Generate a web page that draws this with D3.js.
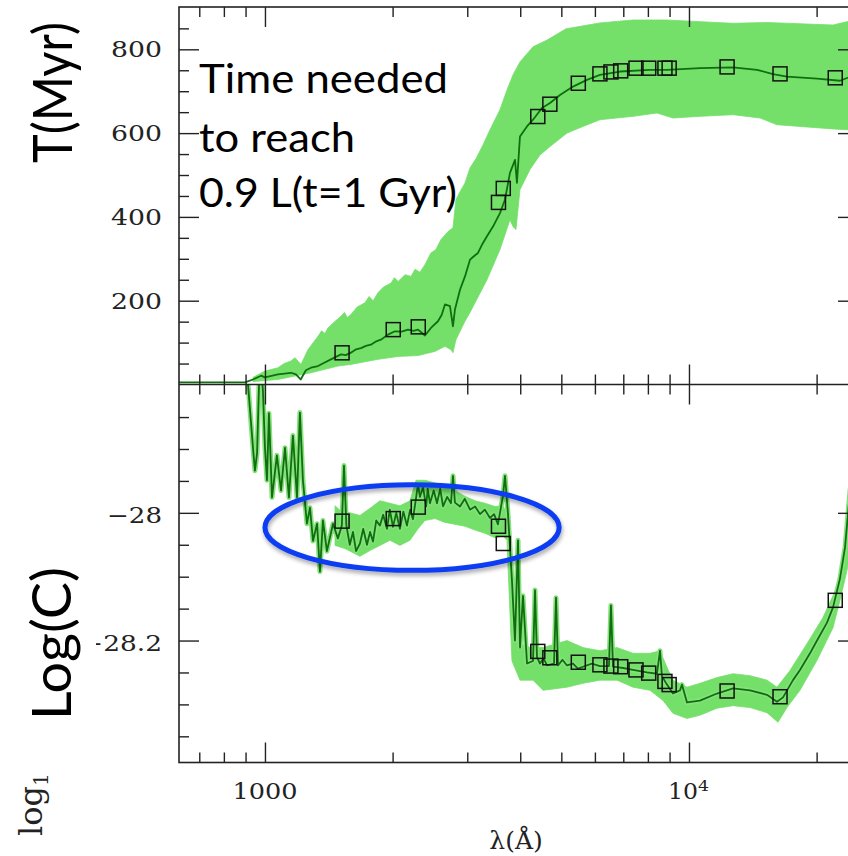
<!DOCTYPE html>
<html>
<head>
<meta charset="utf-8">
<script src="https://cdn.jsdelivr.net/npm/d3@7"></script>
<style>
  html, body { margin: 0; padding: 0; background: #fff; }
  svg { display: block; }
</style>
</head>
<body>
<svg id="chart" width="848" height="856"></svg>
<script>
// ---- wavelength axis (Angstrom, log scale) ----
const lambdaRange = [627, 25040];
const xMajorTicks = [1000, 10000];
const xMinorTicks = [700, 800, 900, 2000, 3000, 4000, 5000, 6000, 7000, 8000, 9000, 20000];

// ---- upper panel: time T (Myr) ----
const tRange = [0, 901];
const tMajorTicks = [200, 400, 600, 800];
const tMinorTicks = [50, 100, 150, 250, 300, 350, 450, 500, 550, 650, 700, 750, 850];
const tTickLabels = ["200", "400", "600", "800"];

// ---- lower panel: log C ----
const cRange = [-28.391, -27.799];
const cMajorTicks = [-28.2, -28.0];
const cMinorTicks = [-28.35, -28.3, -28.25, -28.15, -28.1, -28.05, -27.95, -27.9, -27.85];
const cTickLabels = ["\u221228.2", "\u221228"];

// ---- photometric bands (square markers) ----
const filterLambda = [1520, 2007, 2299, 3554, 3648, 4400, 4698, 5483, 6166, 6546, 6902, 7500, 8036, 8776, 8980, 12300, 16395, 22130];
const filterT = [75.6, 131, 137.6, 434.6, 468, 639.6, 669, 719, 741.4, 746, 748.6, 755, 755, 755, 755, 758, 741.4, 732];
const filterLogC = [-28.013, -28.009, -27.991, -28.021, -28.048, -28.217, -28.227, -28.234, -28.238, -28.240, -28.241, -28.246, -28.251, -28.264, -28.269, -28.279, -28.288, -28.137];

// ---- T(lambda): median curve and spread ----
const tLine = [[623,5],[897,5],[937,12],[979,21],[1000,17],[1073,24],[1152,28],[1183,24],[1214,12],[1249,34],[1284,40],[1334,44],[1380,52],[1431,60],[1470,66],[1511,72],[1550,70],[1595,76],[1640,84],[1684,87],[1730,92],[1778,95],[1830,103],[1877,107],[1950,119],[2026,127],[2100,126],[2175,131],[2240,128],[2296,131],[2340,124],[2384,117],[2463,135],[2559,151],[2610,166],[2658,191],[2731,187],[2776,139],[2806,179],[2884,226],[2963,258],[3045,298],[3110,306],[3180,314],[3260,336],[3339,354],[3450,377],[3583,409],[3681,441],[3783,505],[3888,536],[3929,481],[3994,592],[4149,616],[4287,632],[4502,660],[4702,672],[4964,691],[5328,711],[5746,727],[6167,739],[6877,747],[8092,751],[8873,751],[10616,755],[12700,757],[14469,751],[15781,741],[17026,735],[20043,730],[22707,725],[24640,739],[25040,745]];
const tBandUpper = [[937,17],[1000,32],[1073,40],[1110,50],[1152,56],[1177,64],[1216,48],[1263,83],[1300,100],[1334,115],[1360,128],[1385,122],[1408,135],[1460,150],[1511,163],[1540,172],[1565,160],[1595,167],[1650,185],[1721,195],[1760,210],[1800,200],[1847,219],[1900,232],[1983,242],[2020,255],[2060,246],[2140,262],[2210,258],[2260,275],[2320,268],[2384,286],[2463,314],[2530,322],[2601,346],[2702,365],[2776,374],[2821,441],[2884,460],[2960,480],[3045,517],[3150,540],[3268,572],[3394,608],[3583,656],[3722,703],[3845,739],[3994,770],[4287,806],[4626,822],[5129,849],[6167,863],[7379,870],[8873,870],[10616,866],[12700,862],[15276,864],[18273,861],[21860,858],[23592,866],[25040,868]];
const tBandLower = [[937,7],[1073,12],[1284,28],[1486,44],[1595,48],[1847,60],[2060,67],[2296,69],[2517,79],[2658,91],[2746,83],[2776,76],[2821,107],[2963,151],[3045,172],[3339,250],[3583,322],[3783,393],[3845,377],[3908,370],[3994,465],[4217,513],[4453,548],[4702,568],[5157,600],[5623,616],[6167,632],[7379,640],[8404,648],[9169,636],[10616,640],[12700,644],[14710,636],[16127,620],[18273,616],[21860,610],[23592,608],[25040,613]];

// ---- log C(lambda): median curve and spread ----
const cLine = [[900,-27.75],[937,-27.898],[947,-27.934],[958,-27.907],[973,-27.75],[989,-27.808],[1000,-27.898],[1011,-27.949],[1022,-27.844],[1039,-27.976],[1067,-27.910],[1091,-27.965],[1115,-27.898],[1139,-27.976],[1164,-27.879],[1190,-27.976],[1209,-27.843],[1229,-27.949],[1256,-28.017],[1277,-27.992],[1298,-28.044],[1327,-28.017],[1348,-28.092],[1370,-28.012],[1400,-28.060],[1447,-28.017],[1486,-28.040],[1518,-28.020],[1536,-27.926],[1556,-28.020],[1585,-28.050],[1613,-28.030],[1640,-28.060],[1675,-28.048],[1705,-28.025],[1740,-28.050],[1770,-28.030],[1798,-28.045],[1830,-28.012],[1867,-28.020],[1900,-28.003],[1940,-28.025],[1970,-27.995],[2004,-28.022],[2040,-28.000],[2081,-28.025],[2120,-27.998],[2162,-28.020],[2200,-27.995],[2234,-28.010],[2296,-27.955],[2320,-27.975],[2359,-27.960],[2400,-27.990],[2420,-27.962],[2450,-27.985],[2500,-27.965],[2545,-27.985],[2590,-27.962],[2630,-27.990],[2690,-27.975],[2746,-27.985],[2776,-27.942],[2806,-27.984],[2884,-27.990],[2960,-27.978],[3045,-27.995],[3130,-27.990],[3215,-28.002],[3300,-27.995],[3394,-28.008],[3470,-28.002],[3544,-28.018],[3642,-27.973],[3682,-27.942],[3742,-28.001],[3824,-28.106],[3887,-28.200],[3952,-28.043],[3995,-28.211],[4060,-28.130],[4150,-28.236],[4287,-28.232],[4334,-28.121],[4381,-28.226],[4453,-28.236],[4540,-28.228],[4626,-28.239],[4805,-28.236],[4858,-28.133],[4911,-28.239],[5030,-28.230],[5157,-28.239],[5328,-28.236],[5470,-28.244],[5623,-28.241],[5900,-28.236],[6167,-28.240],[6476,-28.240],[6547,-28.145],[6619,-28.241],[7000,-28.243],[7379,-28.246],[7960,-28.250],[8404,-28.252],[8543,-28.216],[8636,-28.256],[8874,-28.269],[9168,-28.283],[9524,-28.278],[9627,-28.269],[9892,-28.297],[10616,-28.294],[11642,-28.283],[12700,-28.275],[13928,-28.278],[15276,-28.285],[16127,-28.296],[16665,-28.289],[17590,-28.262],[18273,-28.246],[19292,-28.220],[20043,-28.200],[21161,-28.172],[21862,-28.148],[22707,-28.103],[23338,-28.054],[23981,-27.965],[25043,-27.887]];
const cBandUpper = [[1463,-27.989],[1503,-27.996],[1586,-28.000],[1675,-28.004],[1769,-27.993],[1867,-27.981],[1971,-27.985],[2081,-27.989],[2198,-27.981],[2271,-27.949],[2384,-27.949],[2517,-27.953],[2658,-27.957],[2806,-27.965],[2963,-27.974],[3129,-27.981],[3303,-27.985],[3487,-27.990],[3642,-27.989],[3742,-28.004],[3824,-28.137],[3929,-28.200],[3995,-28.205],[4217,-28.211],[4527,-28.211],[5157,-28.200],[5623,-28.211],[6167,-28.216],[6765,-28.211],[7379,-28.220],[8092,-28.220],[8543,-28.216],[8874,-28.242],[9168,-28.262],[9892,-28.273],[10616,-28.267],[11642,-28.258],[12700,-28.252],[13928,-28.255],[15276,-28.262],[16127,-28.273],[17306,-28.247],[18977,-28.205],[20701,-28.164],[22707,-28.106],[23592,-28.054],[25043,-27.934]];
const cBandLower = [[1463,-28.051],[1544,-28.056],[1675,-28.068],[1769,-28.059],[1867,-28.051],[1971,-28.043],[2081,-28.051],[2198,-28.043],[2296,-28.025],[2384,-28.012],[2517,-28.009],[2658,-28.015],[2806,-28.018],[2963,-28.021],[3129,-28.027],[3303,-28.032],[3487,-28.039],[3642,-28.036],[3722,-28.043],[3824,-28.232],[3995,-28.262],[4287,-28.262],[4527,-28.278],[5157,-28.273],[5623,-28.267],[6167,-28.262],[6765,-28.262],[7379,-28.273],[8092,-28.278],[8686,-28.294],[9168,-28.314],[9892,-28.322],[10616,-28.317],[11642,-28.306],[12700,-28.302],[13928,-28.305],[15276,-28.313],[16216,-28.328],[17026,-28.305],[18273,-28.278],[20043,-28.231],[21862,-28.180],[22707,-28.137],[23592,-28.090],[25043,-27.996]];

// ---- highlighted UV region (ellipse extent in data units) ----
const highlightLambda = [1000, 4941];
const highlightLogC = [-27.956, -28.090];

// ---- annotation text ----
const noteLines = ["Time needed", "to reach", "0.9 L(t=1 Gyr)"];
const topPanelTitle = "T(Myr)";
const bottomPanelTitle = "Log(C)";
const xAxisTitle = "\u03bb(\u00c5)";

// =====================================================================
const frame = { left: 179, right: 858, top: 7, mid: 384.5, bottom: 762.5 };
const colors = { band: "#74e06a", line: "#0f6f0f", halo: "#86e07c", axis: "#222", highlight: "#0a3cf2" };

const svg = d3.select("#chart");
const x = d3.scaleLog().domain(lambdaRange).range([frame.left, frame.right]);
const yT = d3.scaleLinear().domain(tRange).range([frame.mid, frame.top]);
const yC = d3.scaleLinear().domain(cRange).range([frame.bottom, frame.mid]);

const defs = svg.append("defs");
defs.append("clipPath").attr("id", "clip-top").append("rect")
  .attr("x", frame.left).attr("y", frame.top)
  .attr("width", frame.right - frame.left).attr("height", frame.mid - frame.top);
defs.append("clipPath").attr("id", "clip-bottom").append("rect")
  .attr("x", frame.left).attr("y", frame.mid)
  .attr("width", frame.right - frame.left).attr("height", frame.bottom - frame.mid);
const shadow = defs.append("filter").attr("id", "soft-shadow")
  .attr("x", "-10%").attr("y", "-20%").attr("width", "120%").attr("height", "150%");
shadow.append("feDropShadow").attr("dx", 1).attr("dy", 3).attr("stdDeviation", 2)
  .attr("flood-color", "#000").attr("flood-opacity", 0.35);

function bandPath(upper, lower, y) {
  const pts = upper.concat(lower.slice().reverse());
  return d3.line().x(d => x(d[0])).y(d => y(d[1]))(pts) + "Z";
}
const lineGen = y => d3.line().x(d => x(d[0])).y(d => y(d[1]));

// ---- upper panel ----
const gTop = svg.append("g").attr("clip-path", "url(#clip-top)");
gTop.append("path").attr("d", bandPath(tBandUpper, tBandLower, yT))
  .attr("fill", colors.band).attr("stroke", colors.band).attr("stroke-width", 0.8);
gTop.append("path").datum(tLine).attr("d", lineGen(yT))
  .attr("fill", "none").attr("stroke", colors.line).attr("stroke-width", 1.8)
  .attr("stroke-linejoin", "round");
gTop.selectAll("rect.mk").data(filterLambda.map((l, i) => [l, filterT[i]])).join("rect")
  .attr("class", "mk")
  .attr("x", d => x(d[0]) - 7).attr("y", d => yT(d[1]) - 7)
  .attr("width", 14).attr("height", 14)
  .attr("fill", "none").attr("stroke", "#111").attr("stroke-width", 1.5);

// ---- lower panel ----
const gBot = svg.append("g").attr("clip-path", "url(#clip-bottom)");
gBot.append("path").attr("d", bandPath(cBandUpper, cBandLower, yC))
  .attr("fill", colors.band).attr("stroke", colors.band).attr("stroke-width", 0.8);
gBot.append("path").datum(cLine).attr("d", lineGen(yC))
  .attr("fill", "none").attr("stroke", colors.halo).attr("stroke-width", 5)
  .attr("stroke-linejoin", "round");
gBot.append("path").datum(cLine).attr("d", lineGen(yC))
  .attr("fill", "none").attr("stroke", colors.line).attr("stroke-width", 1.8)
  .attr("stroke-linejoin", "round");
gBot.selectAll("rect.mk").data(filterLambda.map((l, i) => [l, filterLogC[i]])).join("rect")
  .attr("class", "mk")
  .attr("x", d => x(d[0]) - 7).attr("y", d => yC(d[1]) - 7)
  .attr("width", 14).attr("height", 14)
  .attr("fill", "none").attr("stroke", "#111").attr("stroke-width", 1.5);

// ---- ticks (inward, on all four sides of both panels) ----
function tickAxis(axis, values, size, transform) {
  svg.append("g").attr("transform", transform)
    .call(axis.tickValues(values).tickSize(-size).tickFormat(""))
    .call(g => g.select(".domain").remove())
    .call(g => g.selectAll("line").attr("stroke", colors.axis).attr("stroke-width", 1.4));
}
[[frame.top, d3.axisTop], [frame.mid, d3.axisBottom], [frame.mid, d3.axisTop], [frame.bottom, d3.axisBottom]]
  .forEach(([yy, ax]) => {
    tickAxis(ax(x), xMajorTicks, 20, `translate(0,${yy})`);
    tickAxis(ax(x), xMinorTicks, 10, `translate(0,${yy})`);
  });
[[frame.left, d3.axisLeft], [frame.right, d3.axisRight]].forEach(([xx, ax]) => {
  tickAxis(ax(yT), tMajorTicks, 20, `translate(${xx},0)`);
  tickAxis(ax(yT), tMinorTicks, 10, `translate(${xx},0)`);
  tickAxis(ax(yC), cMajorTicks, 20, `translate(${xx},0)`);
  tickAxis(ax(yC), cMinorTicks, 10, `translate(${xx},0)`);
});

// ---- frame ----
svg.append("rect").attr("x", frame.left).attr("y", frame.top)
  .attr("width", frame.right - frame.left).attr("height", frame.bottom - frame.top)
  .attr("fill", "none").attr("stroke", colors.axis).attr("stroke-width", 1.6);
svg.append("line").attr("x1", frame.left).attr("x2", frame.right)
  .attr("y1", frame.mid).attr("y2", frame.mid)
  .attr("stroke", colors.axis).attr("stroke-width", 1.6);

// ---- tick labels (wide serif plotting font) ----
const serif = "'DejaVu Serif', 'Liberation Serif', serif";
const charW = c => (c === "." ? 9 : c === "\u2212" ? 21 : 17);
const textW = s => Array.from(s).reduce((a, c) => a + charW(c), 0);
function yLabel(text, yy) {
  const w = textW(text);
  svg.append("text").attr("x", 162 - w).attr("y", yy + 8)
    .attr("font-family", serif).attr("font-size", 22).attr("fill", "#222")
    .attr("textLength", w).attr("lengthAdjust", "spacingAndGlyphs")
    .text(text);
}
tMajorTicks.forEach((v, i) => yLabel(tTickLabels[i], yT(v)));
cMajorTicks.forEach((v, i) => yLabel(cTickLabels[i], yC(v) + 2));

const xl = svg.append("g").attr("font-family", serif).attr("fill", "#222");
xl.append("text").attr("x", x(1000) - 32.5).attr("y", 799).attr("font-size", 22)
  .attr("textLength", 65).attr("lengthAdjust", "spacingAndGlyphs").text("1000");
xl.append("text").attr("x", x(10000) - 21).attr("y", 799).attr("font-size", 22)
  .attr("textLength", 30).attr("lengthAdjust", "spacingAndGlyphs").text("10");
xl.append("text").attr("x", x(10000) + 9).attr("y", 791).attr("font-size", 14)
  .attr("textLength", 11).attr("lengthAdjust", "spacingAndGlyphs").text("4");
xl.append("text").attr("x", 516).attr("y", 849).attr("text-anchor", "middle")
  .attr("font-size", 25).text(xAxisTitle);

// y axis label of the plotting package, largely covered by the slide box
const yAxisLbl = svg.append("text").attr("transform", "translate(42,836) rotate(-90)")
  .attr("font-family", serif).attr("font-size", 32).attr("fill", "#222");
yAxisLbl.append("tspan").text("log");
yAxisLbl.append("tspan").attr("font-size", 20).attr("dy", 6).text("1");

// ---- slide annotations ----
const sans = "Lato, 'Open Sans', 'Noto Sans', sans-serif";
svg.append("rect").attr("x", 0).attr("y", 548).attr("width", 96).attr("height", 200).attr("fill", "#fff");
svg.append("text").attr("transform", `translate(71,${643.5}) rotate(-90)`)
  .attr("text-anchor", "middle").attr("font-family", sans).attr("font-size", 54).attr("fill", "#000")
  .attr("textLength", 153).attr("lengthAdjust", "spacingAndGlyphs").text(bottomPanelTitle);
svg.append("text").attr("transform", `translate(72,${92.5}) rotate(-90)`)
  .attr("text-anchor", "middle").attr("font-family", sans).attr("font-size", 54).attr("fill", "#000")
  .attr("textLength", 141).attr("lengthAdjust", "spacingAndGlyphs").text(topPanelTitle);

const noteWidths = [249, 156, 258];
const noteBase = [92.7, 151.7, 207];
noteLines.forEach((t, i) => {
  svg.append("text").attr("x", 199).attr("y", noteBase[i])
    .attr("font-family", sans).attr("font-size", 41).attr("fill", "#000")
    .attr("textLength", noteWidths[i]).attr("lengthAdjust", "spacingAndGlyphs").text(t);
});

// ---- highlight ellipse around the UV part of log C ----
const ex0 = x(highlightLambda[0]), ex1 = x(highlightLambda[1]);
const ey0 = yC(highlightLogC[0]), ey1 = yC(highlightLogC[1]);
svg.append("ellipse")
  .attr("cx", (ex0 + ex1) / 2).attr("cy", (ey0 + ey1) / 2)
  .attr("rx", (ex1 - ex0) / 2).attr("ry", (ey1 - ey0) / 2)
  .attr("fill", "none").attr("stroke", colors.highlight).attr("stroke-width", 5)
  .attr("filter", "url(#soft-shadow)");
</script>
</body>
</html>
